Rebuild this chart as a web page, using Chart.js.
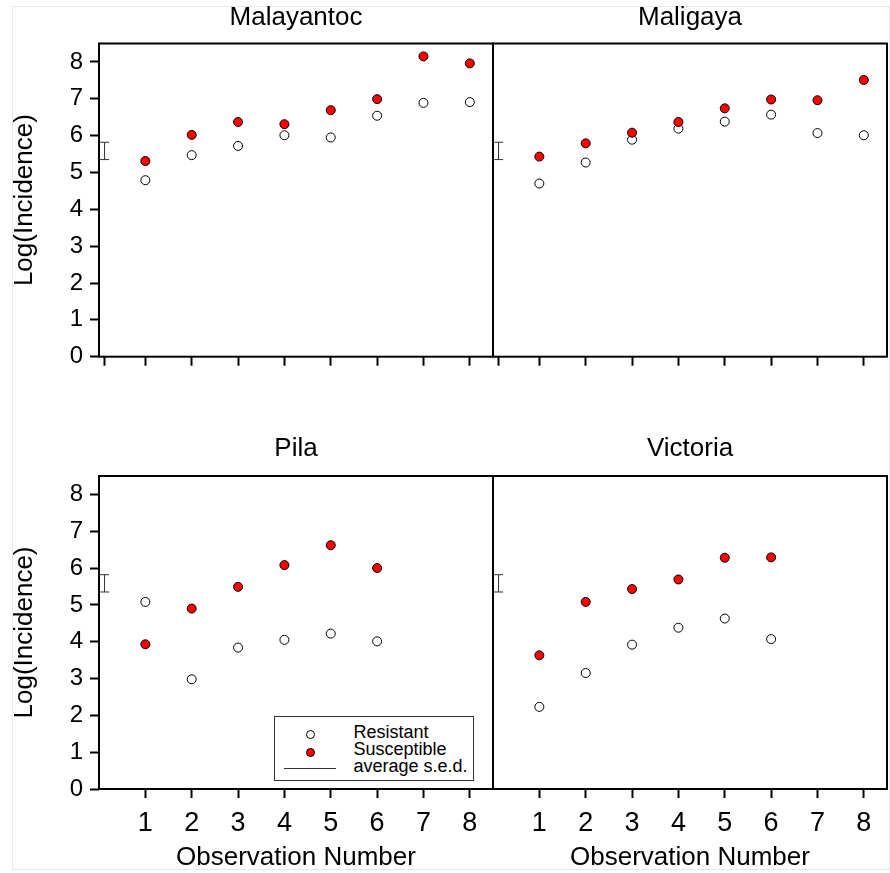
<!DOCTYPE html>
<html>
<head>
<meta charset="utf-8">
<script src="https://cdn.jsdelivr.net/npm/chart.js@4.4.1/dist/chart.umd.min.js"></script>
<style>
  html, body { margin: 0; padding: 0; background: #fff; }
  body { width: 890px; height: 873px; position: relative; overflow: hidden;
         font-family: 'Liberation Sans', Arial, sans-serif; }
  .pageframe { position: absolute; left: 12px; top: 6px; width: 878px; height: 864px;
               border: 1px solid #e3eaf3; box-sizing: border-box; }
  canvas { position: absolute; }
  #legend { position: absolute; left: 274px; top: 716px; width: 200px; height: 65px;
            border: 1px solid #333; box-sizing: border-box; background: #fff; z-index: 5;
            font-size: 18px; color: #000; }
  #legend .txt { position: absolute; left: 78.5px; line-height: 18px; white-space: nowrap; }
  #legend .dot { position: absolute; width: 9px; height: 9px; border-radius: 50%;
                 border: 1px solid #000; box-sizing: border-box; }
  #legend .ln { position: absolute; height: 0; border-top: 1px solid #333; }
</style>
</head>
<body>
<div class="pageframe"></div>
<canvas id="c1" width="494" height="380" style="left:0px;top:0px;"></canvas>
<canvas id="c2" width="410" height="380" style="left:480px;top:0px;"></canvas>
<canvas id="c3" width="494" height="440" style="left:0px;top:433px;"></canvas>
<canvas id="c4" width="410" height="440" style="left:480px;top:433px;"></canvas>
<div id="legend"></div>
<script>
// ---- data ----
const observations = [1, 2, 3, 4, 5, 6, 7, 8];
const malayantocResistant   = [4.79, 5.47, 5.72, 6.01, 5.95, 6.54, 6.89, 6.91];
const malayantocSusceptible = [5.31, 6.02, 6.37, 6.31, 6.69, 6.99, 8.15, 7.96];
const maligayaResistant     = [4.70, 5.27, 5.89, 6.19, 6.38, 6.57, 6.07, 6.01];
const maligayaSusceptible   = [5.43, 5.79, 6.08, 6.37, 6.74, 6.98, 6.96, 7.51];
const pilaResistant         = [5.08, 2.98, 3.84, 4.05, 4.22, 4.01];
const pilaSusceptible       = [3.93, 4.90, 5.49, 6.08, 6.62, 6.00];
const victoriaResistant     = [2.23, 3.15, 3.92, 4.38, 4.63, 4.07];
const victoriaSusceptible   = [3.63, 5.08, 5.43, 5.69, 6.28, 6.29];
const sedPosition = 0.12;
const sedRange = [5.35, 5.82];
const yTicks = [0, 1, 2, 3, 4, 5, 6, 7, 8];
const xTicks = [1, 2, 3, 4, 5, 6, 7, 8];
const xTicksTop = [0.12, 1, 2, 3, 4, 5, 6, 7, 8];
const seriesNames = ['Resistant', 'Susceptible', 'average s.e.d.'];
const panelTitles = ['Malayantoc', 'Maligaya', 'Pila', 'Victoria'];
const xTitle = 'Observation Number';
const yTitle = 'Log(Incidence)';

Chart.defaults.font.family = "'Liberation Sans', Arial, sans-serif";
Chart.defaults.color = '#000';

const framePlugin = {
  id: 'frame',
  beforeDatasetsDraw(chart) {
    const { ctx, chartArea: a } = chart;
    ctx.save();
    ctx.strokeStyle = '#000';
    ctx.lineWidth = 2;
    ctx.strokeRect(a.left, a.top, a.right - a.left, a.bottom - a.top);
    ctx.restore();
  }
};

function toPoints(xs, ys) {
  return ys.map((v, i) => ({ x: xs[i], y: v }));
}

function makePanel(id, o) {
  const cfg = {
    type: 'scatter',
    data: {
      datasets: [
        { label: seriesNames[1], data: toPoints(observations, o.sus),
          pointRadius: 4.5, pointBackgroundColor: '#ff0000', pointBorderColor: '#000',
          pointBorderWidth: 1, clip: false },
        { label: seriesNames[0], data: toPoints(observations, o.res),
          pointRadius: 4.5, pointBackgroundColor: '#ffffff', pointBorderColor: '#000',
          pointBorderWidth: 1, clip: false },
        { label: seriesNames[2],
          data: [{ x: sedPosition, y: sedRange[0] }, { x: sedPosition, y: sedRange[1] }],
          showLine: true, borderColor: '#333', borderWidth: 1,
          pointStyle: 'line', pointRadius: 4.5, pointBorderColor: '#333',
          pointBorderWidth: 1, clip: false }
      ]
    },
    options: {
      responsive: false, animation: false, events: [],
      layout: { autoPadding: false, padding: { left: o.padL, right: o.padR, top: 0, bottom: 0 } },
      plugins: {
        legend: { display: false },
        tooltip: { enabled: false },
        title: { display: true, text: o.title, fullSize: false, color: '#000',
                 font: { size: 26, weight: 'normal', lineHeight: 1.2 },
                 padding: { top: o.titleTop, bottom: o.titleBottom } }
      },
      scales: {
        x: {
          type: 'linear', min: 0, max: 8.5,
          afterBuildTicks: s => { s.ticks = o.xt.map(v => ({ value: v })); },
          afterFit: s => { s.height = o.xh; },
          grid: { display: true, drawOnChartArea: false, drawTicks: true,
                  tickLength: 9, tickWidth: 2, tickColor: '#000' },
          border: { display: false },
          ticks: { display: o.xLabels, font: { size: 27 }, color: '#000', padding: 9,
                   maxRotation: 0, autoSkip: false, callback: v => String(v) },
          title: { display: o.xLabels, text: xTitle, color: '#000',
                   font: { size: 26, lineHeight: 1.2 }, padding: { top: 0, bottom: 0 } }
        },
        y: {
          type: 'linear', min: 0, max: 8.5, display: o.yAxis,
          afterBuildTicks: s => { s.ticks = yTicks.map(v => ({ value: v })); },
          afterFit: s => { s.width = o.yAxis ? 99 : 0; },
          grid: { display: true, drawOnChartArea: false, drawTicks: true,
                  tickLength: 9, tickWidth: 2, tickColor: '#000' },
          border: { display: false },
          ticks: { font: { size: 24 }, color: '#000', padding: 7, callback: v => String(v) },
          title: { display: true, text: yTitle, color: '#000',
                   font: { size: 26, lineHeight: 1.2 }, padding: { top: 9.5, bottom: 0 } }
        }
      }
    },
    plugins: [framePlugin]
  };
  return new Chart(document.getElementById(id), cfg);
}

makePanel('c1', { title: panelTitles[0], res: malayantocResistant, sus: malayantocSusceptible,
  padL: 0, padR: 1, yAxis: true, xLabels: false, xt: xTicksTop, xh: 23.3, titleTop: 1.9, titleBottom: 10.4 });
makePanel('c2', { title: panelTitles[1], res: maligayaResistant, sus: maligayaSusceptible,
  padL: 13, padR: 3, yAxis: false, xLabels: false, xt: xTicksTop, xh: 23.3, titleTop: 1.9, titleBottom: 10.4 });
makePanel('c3', { title: panelTitles[2], res: pilaResistant, sus: pilaSusceptible,
  padL: 0, padR: 1, yAxis: true, xLabels: true, xt: xTicks, xh: 84, titleTop: 0.5, titleBottom: 11.3 });
makePanel('c4', { title: panelTitles[3], res: victoriaResistant, sus: victoriaSusceptible,
  padL: 13, padR: 3, yAxis: false, xLabels: true, xt: xTicks, xh: 84, titleTop: 0.5, titleBottom: 11.3 });

// ---- legend (HTML) ----
const legend = document.getElementById('legend');
const legendRows = [
  { name: seriesNames[0], kind: 'dot', fill: '#ffffff', textTop: 6.25, markTop: 12.5 },
  { name: seriesNames[1], kind: 'dot', fill: '#ff0000', textTop: 23.25, markTop: 30.5 },
  { name: seriesNames[2], kind: 'line', textTop: 39.75, markTop: 51.3 }
];
legendRows.forEach(r => {
  const m = document.createElement('span');
  if (r.kind === 'dot') {
    m.className = 'dot';
    m.style.left = '30.5px';
    m.style.top = r.markTop + 'px';
    m.style.background = r.fill;
  } else {
    m.className = 'ln';
    m.style.left = '9px';
    m.style.width = '52px';
    m.style.top = r.markTop + 'px';
  }
  legend.appendChild(m);
  const t = document.createElement('span');
  t.className = 'txt';
  t.style.top = r.textTop + 'px';
  t.textContent = r.name;
  legend.appendChild(t);
});
</script>
</body>
</html>
